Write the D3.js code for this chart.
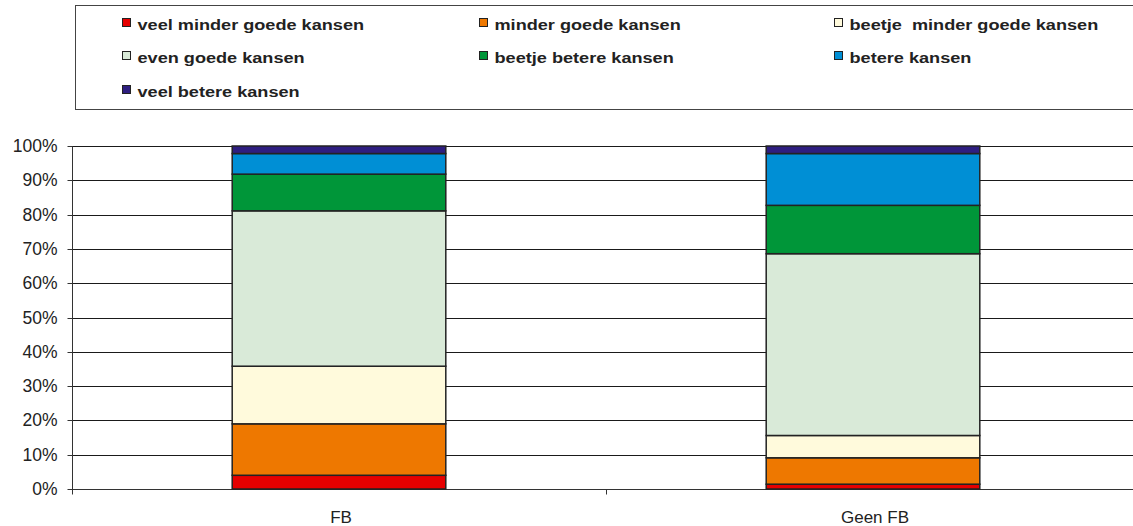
<!DOCTYPE html>
<html>
<head>
<meta charset="utf-8">
<script src="https://cdn.jsdelivr.net/npm/d3@7"></script>
<style>
  body { margin: 0; background: #fff; }
  svg { display: block; font-family: "Liberation Sans", Arial, sans-serif; }
</style>
</head>
<body>
<svg id="chart"></svg>
<script>
var categories = ["FB", "Geen FB"];
var seriesNames = [
  "veel minder goede kansen",
  "minder goede kansen",
  "beetje  minder goede kansen",
  "even goede kansen",
  "beetje betere kansen",
  "betere kansen",
  "veel betere kansen"
];
var seriesColors = ["#e60000", "#ee7800", "#fffadc", "#d9ead8", "#009639", "#008fd5", "#2e1e80"];
// percentages per series, one value per category (FB, Geen FB)
var veelMinder   = [4.0, 1.4];
var minder       = [15.0, 7.7];
var beetjeMinder = [16.8, 6.5];
var evenGoed     = [45.3, 53.0];
var beetjeBeter  = [10.7, 14.1];
var beter        = [6.0, 15.1];
var veelBeter    = [2.2, 2.2];
var yTicks = [0, 10, 20, 30, 40, 50, 60, 70, 80, 90, 100];

var width = 1133, height = 526;
var svg = d3.select("#chart").attr("width", width).attr("height", height);

var seriesValues = [veelMinder, minder, beetjeMinder, evenGoed, beetjeBeter, beter, veelBeter];
var rows = categories.map(function(c, i) {
  var r = { cat: c };
  seriesNames.forEach(function(s, j) { r[s] = seriesValues[j][i]; });
  return r;
});
var stacked = d3.stack().keys(seriesNames)(rows);

var x = d3.scaleBand().domain(categories).range([72, 1140]).paddingInner(0.6).paddingOuter(0.3);
var y = d3.scaleLinear().domain([0, 100]).range([489, 146]);
var py = function(v) { return Math.round(y(v)) + 0.5; };

// gridlines
svg.append("g").selectAll("line").data(yTicks.slice(1)).enter().append("line")
  .attr("x1", 72).attr("x2", 1140)
  .attr("y1", py).attr("y2", py)
  .attr("stroke", "#1a1a1a").attr("stroke-width", 1);

// y axis
var yAxis = svg.append("g").attr("transform", "translate(72.5,0)")
  .call(d3.axisLeft(y).tickValues(yTicks).tickSize(5).tickPadding(10)
    .tickFormat(function(d) { return d + "%"; }));
yAxis.select(".domain").attr("stroke", "#333").attr("d", "M0," + py(0) + "V" + py(100));
yAxis.selectAll(".tick line").attr("stroke", "#333");
yAxis.selectAll(".tick").attr("transform", function(d) { return "translate(0," + py(d) + ")"; });
yAxis.selectAll("text").attr("font-size", 17.5).attr("fill", "#222")
  .attr("font-family", "'Liberation Sans', Arial, sans-serif");

// x axis
var y0 = py(0);
svg.append("line").attr("x1", 72).attr("x2", 1140).attr("y1", y0).attr("y2", y0)
  .attr("stroke", "#333");
var step = x.step();
var bounds = [72, 72 + step, 72 + 2 * step];
svg.append("g").selectAll("line").data(bounds).enter().append("line")
  .attr("x1", function(d) { return Math.round(d) + 0.5; })
  .attr("x2", function(d) { return Math.round(d) + 0.5; })
  .attr("y1", y0).attr("y2", y0 + 5).attr("stroke", "#333");
svg.append("g").selectAll("text").data(categories).enter().append("text")
  .attr("x", function(d) { return x(d) + x.bandwidth() / 2 + 2; })
  .attr("y", 522.5)
  .attr("text-anchor", "middle").attr("font-size", 17).attr("fill", "#222")
  .text(function(d) { return d; });

// bars
svg.append("g").selectAll("g").data(stacked).enter().append("g")
  .attr("fill", function(d, i) { return seriesColors[i]; })
  .selectAll("rect").data(function(d) { return d; }).enter().append("rect")
  .attr("x", function(d) { return x(d.data.cat); })
  .attr("width", x.bandwidth())
  .attr("y", function(d) { return y(d[1]); })
  .attr("height", function(d) { return y(d[0]) - y(d[1]); })
  .attr("stroke", "#222").attr("stroke-width", 1.5);

// legend
svg.append("rect").attr("x", 75.5).attr("y", 5.5).attr("width", 1070).attr("height", 104)
  .attr("fill", "none").attr("stroke", "#444");
var legendCols = [122, 479, 834];
var legendRows = [29.5, 62.5, 96.5];
var legend = svg.append("g").selectAll("g").data(seriesNames).enter().append("g")
  .attr("transform", function(d, i) {
    return "translate(" + legendCols[i % 3] + "," + legendRows[Math.floor(i / 3)] + ")";
  });
legend.append("rect").attr("x", 0.5).attr("y", -11).attr("width", 8).attr("height", 8)
  .attr("fill", function(d, i) { return seriesColors[i]; })
  .attr("stroke", "#222").attr("stroke-width", 1);
legend.append("text").attr("transform", "translate(15.5,0) scale(1.25,1)")
  .attr("font-size", 14.5).attr("font-weight", "bold").attr("fill", "#222")
  .attr("xml:space", "preserve").style("white-space", "pre")
  .text(function(d) { return d; });
</script>
</body>
</html>
